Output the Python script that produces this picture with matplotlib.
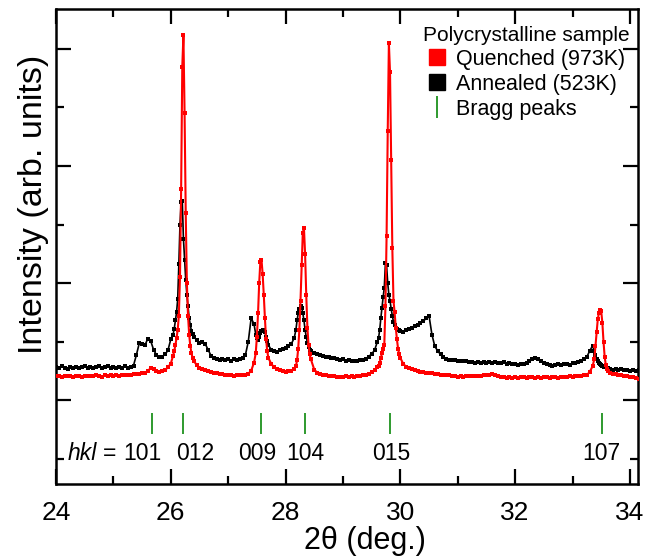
import matplotlib
matplotlib.use("Agg")
import matplotlib.pyplot as plt
from matplotlib.lines import Line2D
from matplotlib.ticker import MultipleLocator

plt.rcParams['font.family'] = ['Liberation Sans', 'DejaVu Sans']

# measured 2theta grid (deg.)
two_theta = [
    24.00, 24.05, 24.10, 24.15, 24.20, 24.25, 24.30, 24.35, 24.40, 24.45,
    24.50, 24.55, 24.60, 24.65, 24.70, 24.75, 24.80, 24.85, 24.90, 24.95,
    25.00, 25.05, 25.10, 25.15, 25.20, 25.25, 25.30, 25.35, 25.40, 25.45,
    25.50, 25.55, 25.60, 25.65, 25.70, 25.75, 25.80, 25.85, 25.90, 25.95,
    26.00,
    26.04, 26.06, 26.08, 26.10, 26.12, 26.14, 26.16, 26.18, 26.20, 26.22,
    26.24, 26.26, 26.28, 26.30, 26.32, 26.34, 26.36, 26.38, 26.40,
    26.45, 26.50, 26.55, 26.60, 26.65, 26.70, 26.75, 26.80, 26.85, 26.90,
    26.95, 27.00, 27.05, 27.10, 27.15, 27.20, 27.25, 27.30, 27.35, 27.40,
    27.45,
    27.48, 27.50, 27.52, 27.54, 27.56, 27.58, 27.60, 27.62, 27.64, 27.66,
    27.68, 27.70,
    27.75, 27.80, 27.85, 27.90, 27.95, 28.00, 28.05, 28.10, 28.15,
    28.18, 28.20, 28.22, 28.24, 28.26, 28.28, 28.30, 28.32, 28.34, 28.36,
    28.38, 28.40, 28.42, 28.44,
    28.50, 28.55, 28.60, 28.65, 28.70, 28.75, 28.80, 28.85, 28.90, 28.95,
    29.00, 29.05, 29.10, 29.15, 29.20, 29.25, 29.30, 29.35, 29.40, 29.45,
    29.50, 29.55, 29.60,
    29.62, 29.64, 29.66, 29.68, 29.70, 29.72, 29.74, 29.76, 29.78, 29.80,
    29.82, 29.84, 29.86, 29.88, 29.90, 29.92, 29.94, 29.96, 29.98, 30.00,
    30.05, 30.10, 30.15, 30.20, 30.25, 30.30, 30.35, 30.40, 30.45, 30.50,
    30.55, 30.60, 30.65, 30.70, 30.75, 30.80, 30.85, 30.90, 30.95, 31.00,
    31.05, 31.10, 31.15, 31.20, 31.25, 31.30, 31.35, 31.40, 31.45, 31.50,
    31.55, 31.60, 31.65, 31.70, 31.75, 31.80, 31.85, 31.90, 31.95, 32.00,
    32.05, 32.10, 32.15, 32.20, 32.25, 32.30, 32.35, 32.40, 32.45, 32.50,
    32.55, 32.60, 32.65, 32.70, 32.75, 32.80, 32.85, 32.90, 32.95, 33.00,
    33.05, 33.10, 33.15, 33.20, 33.25, 33.30, 33.35,
    33.38, 33.40, 33.42, 33.44, 33.46, 33.48, 33.50, 33.52, 33.54, 33.56,
    33.58, 33.60, 33.62,
    33.65, 33.70, 33.75, 33.80, 33.85, 33.90, 33.95, 34.00, 34.05, 34.10,
    34.15,
]

quenched = [
    208, 203, 199, 206, 202, 209, 201, 207, 205, 198,
    207, 202, 209, 204, 210, 205, 201, 210, 206, 212,
    207, 213, 208, 212, 215, 211, 217, 220, 223, 226,
    229, 235, 248, 275, 262, 245, 240, 248, 256, 280,
    312,
    380, 420, 470, 530, 600, 720, 1050, 1800, 2850, 3120,
    2450, 1600, 1000, 720, 560, 460, 400, 360, 335,
    300, 275, 262, 255, 245, 240, 232, 228, 222, 220,
    215, 212, 210, 208, 212, 210, 214, 218, 225, 250,
    320,
    400, 540, 740, 1000, 1180, 1200, 1080, 900, 700, 520,
    420, 360,
    310, 280, 262, 255, 248, 244, 246, 252, 265,
    290, 340, 440, 600, 850, 1150, 1430, 1470, 1250, 900,
    620, 470, 390, 350,
    260, 235, 222, 215, 212, 208, 206, 204, 201, 199,
    200, 205, 199, 206, 198, 204, 207, 210, 216, 225,
    238, 255, 285,
    290, 320, 360, 400, 440, 470, 800, 1400, 2300, 3050,
    2800, 2050, 1300, 850, 750, 620, 520, 440, 390, 360,
    310, 285, 272, 262, 255, 248, 243, 238, 235, 230,
    228, 225, 222, 218, 216, 212, 210, 205, 207, 201,
    206, 200, 207, 203, 209, 204, 209, 205, 211, 212,
    218, 222, 212, 205, 200, 196, 192, 198, 191, 196,
    190, 197, 193, 191, 198, 193, 190, 197, 192, 198,
    193, 190, 196, 198, 192, 199, 195, 200, 202, 199,
    204, 205, 208, 210, 215, 240, 290,
    350, 460, 580, 690, 745, 770, 760, 660, 500, 370,
    300, 265, 245,
    232, 225, 220, 215, 212, 208, 205, 200, 195, 190,
    180,
]

annealed = [
    284, 273, 287, 276, 268, 282, 274, 286, 271, 280,
    288, 275, 283, 270, 280, 287, 273, 282, 290, 276,
    284, 272, 283, 275, 287, 273, 280, 295, 385, 485,
    478, 470, 525, 505, 430, 385, 368, 372, 390, 425,
    520,
    560, 610, 680, 750, 860, 1160, 1500, 1690, 1700, 1380,
    1200, 1030, 900, 800, 700, 640, 590, 565, 540,
    515, 490, 500, 480, 430, 380, 362, 352, 345, 352,
    340, 349, 338, 350, 342, 352, 360, 385, 500, 700,
    650,
    560, 530, 515, 540, 575, 590, 600, 598, 580, 540,
    505, 470,
    430, 418, 412, 425, 440, 448, 462, 480, 530,
    600, 680, 740, 780, 805, 790, 745, 680, 600, 540,
    490, 455, 430, 415,
    400, 390, 385, 378, 372, 368, 362, 358, 352, 345,
    350, 338, 341, 332, 330, 338, 340, 345, 355, 372,
    395, 425, 500,
    530, 600, 700, 790, 880, 960, 1170, 1150, 1000, 900,
    850, 780, 720, 670, 640, 620, 610, 600, 598, 590,
    585, 595, 610, 620, 635, 645, 660, 672, 700, 720,
    560, 460, 420, 390, 365, 350, 345, 342, 342, 338,
    335, 330, 330, 322, 329, 318, 327, 315, 324, 316,
    322, 313, 324, 316, 314, 322, 310, 318, 308, 305,
    298, 310, 312, 318, 330, 350, 362, 350, 330, 318,
    305, 300, 288, 302, 306, 296, 304, 310, 303, 313,
    318, 325, 335, 350, 370, 420, 465,
    420, 385, 350, 330, 314, 305, 298, 290, 285, 282,
    279, 276, 272,
    268, 260, 266, 256, 263, 253, 261, 251, 258, 249,
    253,
]

bragg_pos = [25.67, 26.22, 27.58, 28.33, 29.82, 33.51]
hkl_labels = ['101', '012', '009', '104', '015', '107']
hkl_text_x = [25.51, 26.42, 27.51, 28.35, 29.84, 33.50]

fig = plt.figure(figsize=(6.47, 5.59), dpi=100)
ax = fig.add_axes([0.0866, 0.134, 0.8994, 0.850])

ax.plot(two_theta, annealed, color='black', lw=1.2, marker='s', ms=3,
        mew=0, zorder=3)
ax.plot(two_theta, quenched, color='red', lw=1.5, marker='s', ms=3,
        mew=0, zorder=4)

ax.vlines(bragg_pos, -290, -110, color='#2e9a2e', lw=1.4)
ax.text(24.21, -453, 'hkl', style='italic', fontsize=16.5, va='center', ha='left')
ax.text(24.82, -453, '=', fontsize=16.5, va='center', ha='left')
for xp, lab in zip(hkl_text_x, hkl_labels):
    ax.text(xp, -453, lab, fontsize=16.5, va='center', ha='center')

ax.set_xlim(24, 34.14)
ax.set_ylim(-718, 3342)
ax.xaxis.set_major_locator(MultipleLocator(2))
ax.xaxis.set_minor_locator(MultipleLocator(1))
ax.yaxis.set_major_locator(MultipleLocator(1000))
ax.yaxis.set_minor_locator(MultipleLocator(500))
ax.tick_params(which='both', direction='in', top=True, right=True, width=1.6)
ax.tick_params(which='major', length=11)
ax.tick_params(which='minor', length=6)
ax.tick_params(axis='x', labelsize=19, pad=12)
ax.tick_params(axis='y', labelleft=False)
for sp in ax.spines.values():
    sp.set_linewidth(1.8)

ax.set_xlabel('2θ (deg.)', fontsize=22)
ax.xaxis.set_label_coords(0.531, -0.137)
ax.xaxis.label.set_va('baseline')
ax.set_ylabel('Intensity (arb. units)', fontsize=24.5)
ax.yaxis.set_label_coords(-0.012, 0.589)

handles = [
    Line2D([], [], marker='s', color='red', ls='none', ms=11),
    Line2D([], [], marker='s', color='black', ls='none', ms=11),
    Line2D([], [], marker='|', color='#2e9a2e', ls='none', ms=16, mew=1.4),
]
leg = ax.legend(handles, ['Quenched (973K)', 'Annealed (523K)', 'Bragg peaks'],
                title='Polycrystalline sample', fontsize=15.5, title_fontsize=15,
                loc='upper right', bbox_to_anchor=(1.0, 0.982), frameon=False,
                handlelength=0.9, handletextpad=0.45, labelspacing=0.18,
                borderaxespad=0)

fig.savefig('out.png', dpi=100)
